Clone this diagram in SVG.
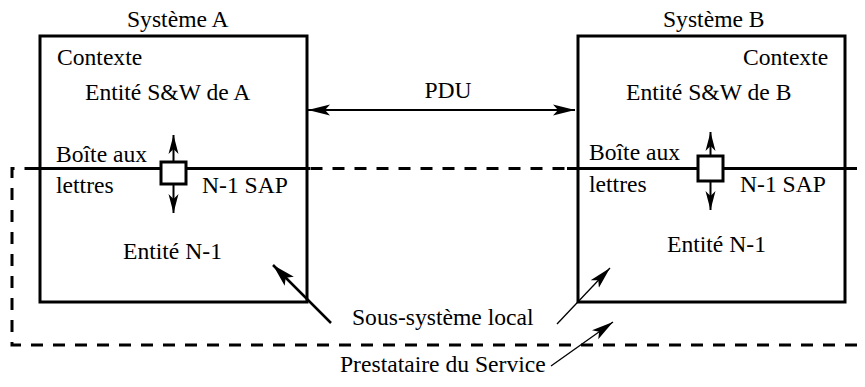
<svg xmlns="http://www.w3.org/2000/svg" width="865" height="387" viewBox="0 0 865 387">
<style>
text{font-family:"Liberation Serif","Times New Roman",serif;font-size:23.6px;fill:#000}
.box{fill:none;stroke:#000;stroke-width:3}
.bar{fill:none;stroke:#000;stroke-width:3}
.dash{fill:none;stroke:#000;stroke-width:3;stroke-dasharray:12 10}
.mb{fill:#fff;stroke:#000;stroke-width:3}
.c2{fill:none;stroke:#000;stroke-width:2}
.c25{fill:none;stroke:#000;stroke-width:2.5}
.c1{fill:none;stroke:#000;stroke-width:1.3}
</style>
<defs>
<marker id="hBig" markerUnits="userSpaceOnUse" viewBox="-22 -6 23 12" refX="0" refY="0" markerWidth="23" markerHeight="12" orient="auto-start-reverse">
<path d="M0,0 L-22,-5.5 L-17,0 L-22,5.5 Z" fill="#000"/>
</marker>
<marker id="hSmall" markerUnits="userSpaceOnUse" viewBox="-19 -6 20 12" refX="0" refY="0" markerWidth="20" markerHeight="12" orient="auto-start-reverse">
<path d="M0,0 L-19,-5 L-14,0 L-19,5 Z" fill="#000"/>
</marker>
<marker id="hPtr" markerUnits="userSpaceOnUse" viewBox="-23 -7 24 14" refX="0" refY="0" markerWidth="24" markerHeight="14" orient="auto">
<path d="M0,0 L-23,-6.5 L-18,0 L-23,6.5 Z" fill="#000"/>
</marker>
<marker id="hThin" markerUnits="userSpaceOnUse" viewBox="-22 -6 23 12" refX="0" refY="0" markerWidth="23" markerHeight="12" orient="auto">
<path d="M0,0 L-22,-5.5 L-17,0 L-22,5.5 Z" fill="#000"/>
</marker>
</defs>

<g id="service-provider">
<path class="dash" d="M857,345 H12 V168.5 H857"/>
<text x="340" y="372">Prestataire du Service</text>
</g>

<g id="system-a">
<text x="127" y="27">Système A</text>
<rect class="box" x="40" y="36" width="267" height="266"/>
<line class="bar" x1="28" y1="168.5" x2="310" y2="168.5"/>
<text x="57" y="65">Contexte</text>
<text x="85" y="100">Entité S&amp;W de A</text>
<text x="56" y="162">Boîte aux</text>
<text x="56" y="193">lettres</text>
<text x="202" y="193">N-1 SAP</text>
<text x="123" y="259">Entité N-1</text>
</g>

<g id="system-b">
<text x="663" y="27">Système B</text>
<rect class="box" x="578" y="36" width="267" height="266"/>
<line class="bar" x1="567" y1="168.5" x2="857" y2="168.5"/>
<text x="743" y="65">Contexte</text>
<text x="626" y="100">Entité S&amp;W de B</text>
<text x="589" y="160">Boîte aux</text>
<text x="589" y="192">lettres</text>
<text x="740" y="192">N-1 SAP</text>
<text x="667" y="252">Entité N-1</text>
</g>

<g id="connectors">
<line class="c2" x1="308" y1="110" x2="575" y2="110" marker-start="url(#hBig)" marker-end="url(#hBig)"/>
<text x="448" y="98" text-anchor="middle">PDU</text>
<line class="c2" x1="173.5" y1="162" x2="173.5" y2="135" marker-end="url(#hSmall)"/>
<line class="c2" x1="173.5" y1="184" x2="173.5" y2="213" marker-end="url(#hSmall)"/>
<line class="c2" x1="710.5" y1="156" x2="710.5" y2="132" marker-end="url(#hSmall)"/>
<line class="c2" x1="710.5" y1="181" x2="710.5" y2="210" marker-end="url(#hSmall)"/>
<line class="c25" x1="331" y1="323" x2="273" y2="265" marker-end="url(#hPtr)"/>
<line class="c1" x1="557" y1="324" x2="610" y2="268" marker-end="url(#hThin)"/>
<line class="c1" x1="551" y1="366" x2="613" y2="322" marker-end="url(#hThin)"/>
</g>

<g id="mailbox-a">
<rect class="mb" x="161" y="162" width="25" height="22"/>
</g>
<g id="mailbox-b">
<rect class="mb" x="698" y="156" width="25" height="25"/>
</g>

<g id="label-local">
<text x="352" y="325">Sous-système local</text>
</g>
</svg>
